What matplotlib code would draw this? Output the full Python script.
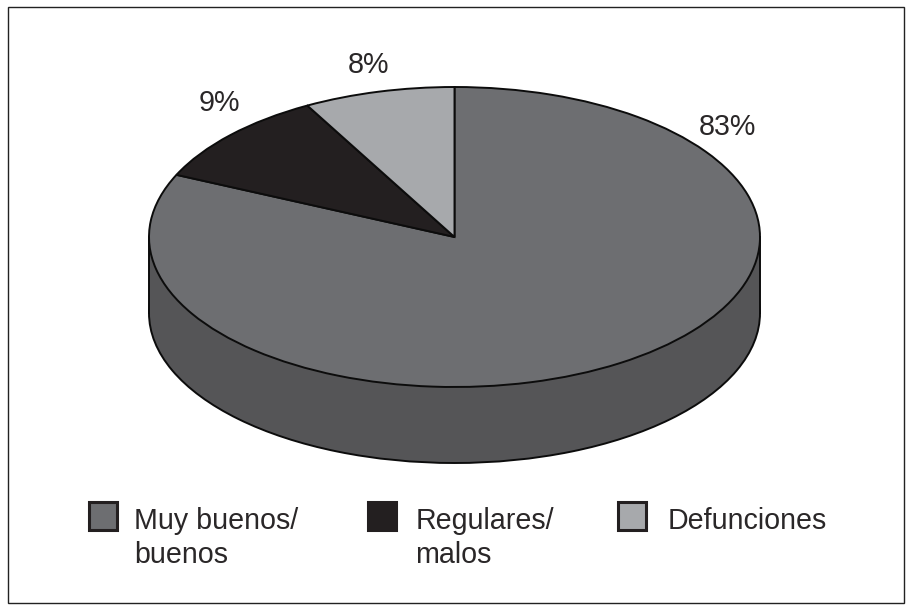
import matplotlib
matplotlib.use("Agg")
import matplotlib.pyplot as plt
from matplotlib.patches import Rectangle

plt.rcParams['font.family'] = ['Liberation Sans', 'DejaVu Sans']

categories = ["Muy buenos/\nbuenos", "Regulares/\nmalos", "Defunciones"]
drawn_shares = [81.8, 10.2, 8.0]
value_labels = ["83%", "9%", "8%"]
top_colors = ["#6d6e71", "#231f20", "#a7a9ac"]
side_color = "#555557"
edge = "#0c0c0c"

W, H = 912, 613
cx, cy, rx, ry, depth_px = 454.5, 237, 305.5, 150, 76

fig = plt.figure(figsize=(W / 100, H / 100), dpi=100, facecolor="white")
ax = fig.add_axes([0, 0, 1, 1])

# side wall: lower pie and the body joining it to the upper pie
depth = depth_px / ry
ax.pie([1], radius=1, center=(0, -depth), colors=[side_color],
       wedgeprops=dict(edgecolor=edge, linewidth=1.4), normalize=True)
ax.add_patch(Rectangle((-1, -depth), 2, depth, facecolor=side_color, edgecolor="none", zorder=1.5))
ax.plot([-1, -1], [-depth, 0], color=edge, lw=1.4, zorder=1.6)
ax.plot([1, 1], [-depth, 0], color=edge, lw=1.4, zorder=1.6)

# top face
wedges, _ = ax.pie(drawn_shares, radius=1, center=(0, 0), startangle=90, counterclock=False,
                   colors=top_colors, wedgeprops=dict(edgecolor=edge, linewidth=1.4, zorder=2),
                   normalize=True)

ax.set_aspect("auto")
ax.set_xlim(-cx / rx, (W - cx) / rx)
ax.set_ylim(-(H - cy) / ry, cy / ry)
ax.axis("off")


def px(x, y):
    return (x - cx) / rx, (cy - y) / ry


fs = 20.6
txt = "#2a2728"
for label, pos in zip(value_labels, [(727, 127), (219, 103), (369, 65)]):
    ax.text(*px(*pos), label, ha="center", va="center", fontsize=fs, color=txt, zorder=5)

# legend
for cat, color, bx, tx in zip(categories, top_colors, [88.5, 368.5, 618.5], [134, 415.5, 668]):
    ax.add_patch(Rectangle(px(bx, 529.5), 28 / rx, 28 / ry, facecolor=color,
                           edgecolor="#231f20", linewidth=2.2, zorder=5))
    ax.text(*px(tx, 507), cat, ha="left", va="top", fontsize=fs, color=txt,
            linespacing=1.29, zorder=5)

# outer frame
fig.add_artist(Rectangle((8 / W, 1 - 603 / H), 896 / W, 596 / H, transform=fig.transFigure,
                         facecolor="none", edgecolor="#222222", linewidth=1))

fig.savefig("out.png", dpi=100)
